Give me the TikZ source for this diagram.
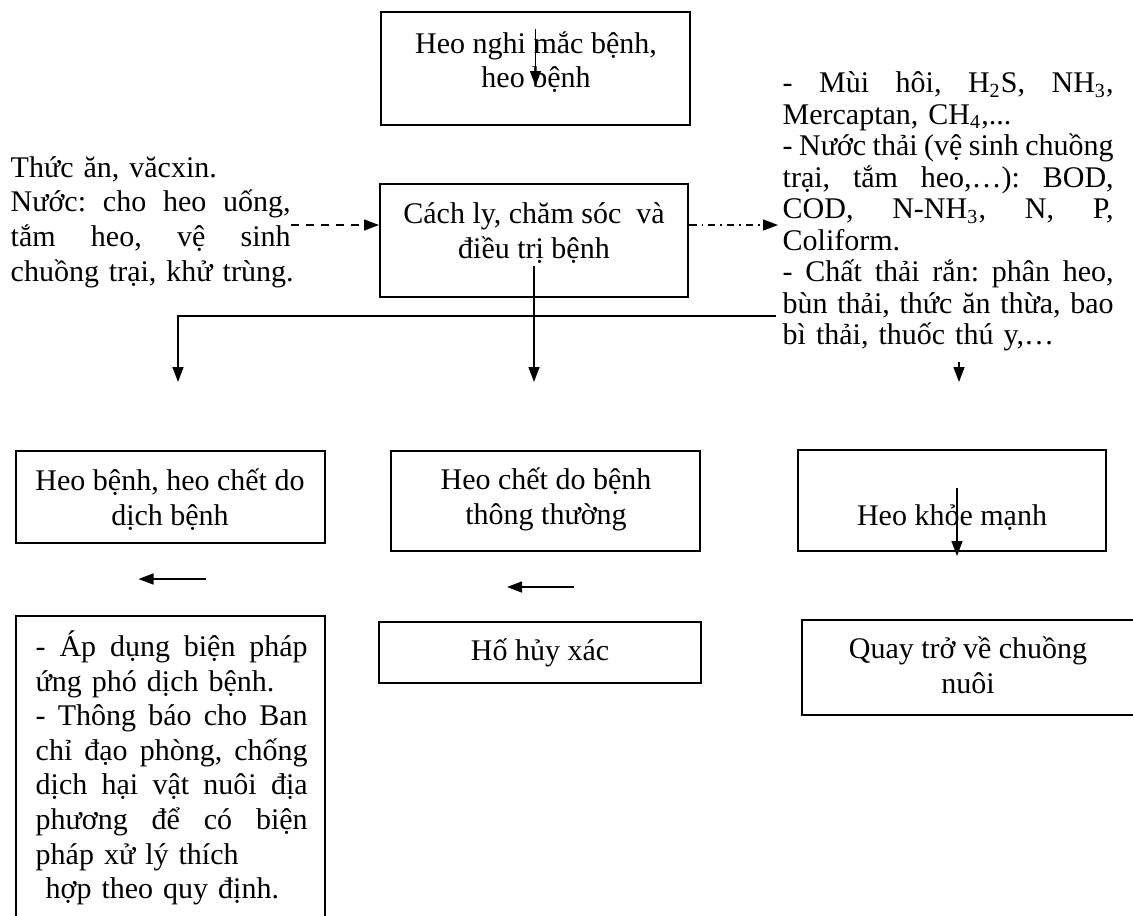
\documentclass[tikz,border=0pt]{standalone}
\usepackage{fontspec}
\setmainfont{Liberation Serif}
\usetikzlibrary{arrows.meta, fit}
\newcommand{\jl}[1]{\hbox to\hsize{\spaceskip=\fontdimen2\font plus 1fil minus .4\fontdimen2\font
    \xspaceskip=\spaceskip\strut #1}}
\newcommand{\nl}[1]{\hbox{\strut #1}}

\begin{document}
\frenchspacing
\begin{tikzpicture}[x=0.4pt, y=-0.4pt, line width=0.55pt,
        box/.style={draw, line width=0.8pt, inner sep=0pt},
        txt/.style={align=center, inner sep=0pt, font=\fontsize{12}{13.8}\selectfont},
        para/.style={anchor=north west, inner sep=0pt, text width=#1},
        >={Triangle[length=6pt, width=4.4pt]}]
        \useasboundingbox (0,0) rectangle (1133,915);

        % Draw the boxes
        \node[box, fit={(381,12) (690,125)}] (sick) {};
        \node[box, fit={(380,184) (688,297)}] (care) {};
        \node[box, fit={(16,451) (325,543)}] (epi) {};
        \node[box, fit={(391,451) (700,551)}] (dead) {};
        \node[box, fit={(798,450) (1106,551)}] (ok) {};
        \node[box, fit={(16,616) (325,940)}] (resp) {};
        \node[box, fit={(379,622) (701,683)}] (pit) {};
        \node[box, fit={(802,620) (1150,715)}] (back) {};

        % Draw the texts
        \node[txt] (sickt) at (536,62) {Heo nghi mắc bệnh,\\heo bệnh};
        \node[txt] (caret) at (534,233) {Cách ly, chăm sóc~ và\\điều trị bệnh};
        \node[txt] (epit) at (170,499.5) {Heo bệnh, heo chết do\\dịch bệnh};
        \node[txt] (deadt) at (546,499.5) {Heo chết do bệnh\\thông thường};
        \node[txt] (okt) at (952,518) {Heo khỏe mạnh};
        \node[txt] (pitt) at (540,653) {Hố hủy xác};
        \node[txt] (backt) at (968,665.5) {Quay trở về chuồng\\nuôi};

        \node[para=112pt, font=\fontsize{12}{13.9}\selectfont] (inp) at (10,152) {\vbox{%
            \nl{Thức ăn, văcxin.}%
            \jl{Nước: cho heo uống,}%
            \jl{tắm heo, vệ sinh}%
            \nl{chuồng trại, khử trùng.}}};
        \node[para=132.4pt, font=\fontsize{12}{12.6}\selectfont] (out) at (782,70) {\vbox{%
            \jl{- Mùi hôi, H\textsubscript{2}S, NH\textsubscript{3},}%
            \nl{Mercaptan, CH\textsubscript{4},...}%
            \jl{- Nước thải (vệ sinh chuồng}%
            \jl{trại, tắm heo,…): BOD,}%
            \jl{COD, N-NH\textsubscript{3}, N, P,}%
            \nl{Coliform.}%
            \jl{- Chất thải rắn: phân heo,}%
            \jl{bùn thải, thức ăn thừa, bao}%
            \nl{bì thải, thuốc thú y,…}}};
        \node[para=108.8pt, font=\fontsize{12}{13.84}\selectfont] (respt) at (35,630) {\vbox{%
            \jl{- Áp dụng biện pháp}%
            \nl{ứng phó dịch bệnh.}%
            \jl{- Thông báo cho Ban}%
            \jl{chỉ đạo phòng, chống}%
            \jl{dịch hại vật nuôi địa}%
            \jl{phương để có biện}%
            \nl{pháp xử lý thích}%
            \nl{\ hợp theo quy định.}}};

        % Draw the arrows
        \coordinate (lvl) at (0,225);
        \coordinate (row) at (0,382);
        \coordinate (cL) at (178,316);
        \coordinate (cR) at (776,316);
        \coordinate (cS) at (959,362);
        \draw[->] ([yshift=-7.2pt]sick.north) -- ([yshift=-30pt]sick.north);
        \draw[->, dashed] (inp.east |- lvl) -- (care.west |- lvl);
        \draw[->, dash dot] (care.east |- lvl) -- ([xshift=-1.6pt]out.west |- lvl);
        \draw[->] ([yshift=12.8pt]care.south) -- (care.south |- row);
        \draw[->] (cR) -- (cL) -- (cL |- row);
        \draw[->] (cS) -- (cS |- row);
        \draw[->] ([xshift=2pt, yshift=-15.6pt]ok.north) -- ([xshift=2pt, yshift=-1.6pt]ok.south);
        \draw[->] ([xshift=14pt, yshift=-14pt]epi.south) -- ([xshift=-12.8pt, yshift=-14pt]epi.south);
        \draw[->] ([xshift=11.4pt, yshift=-14pt]dead.south) -- ([xshift=-15.4pt, yshift=-14pt]dead.south);
    \end{tikzpicture}
\end{document}
